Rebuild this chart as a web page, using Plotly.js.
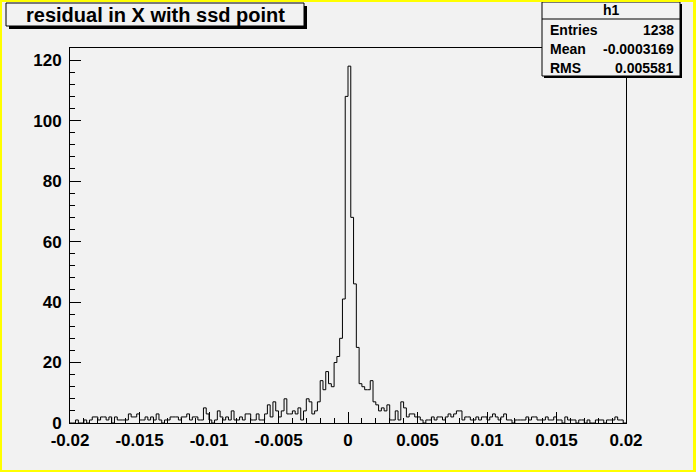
<!DOCTYPE html>
<html>
<head>
<meta charset="utf-8">
<script src="https://cdn.plot.ly/plotly-3.0.1.min.js"></script>
<style>
  html, body { margin: 0; padding: 0; background: #ffff00; width: 696px; height: 472px; overflow: hidden; }
  #plot { position: absolute; left: 2px; top: 2px; width: 691px; height: 468px; }
</style>
</head>
<body>
<div id="plot"></div>
<script>
// ---- data ----
const xMin = -0.02;
const xMax = 0.02;
const nBins = 200;
const counts = [
  0,0,1,0,0,1,0,1,2,2,
  1,2,2,1,2,0,2,1,1,1,
  1,3,2,2,3,1,1,2,1,2,
  1,3,1,0,1,1,2,2,2,1,
  2,2,3,1,2,2,1,1,5,3,
  1,0,1,4,2,1,2,1,4,1,
  1,2,1,3,3,1,1,3,1,1,
  3,6,2,7,4,2,4,8,3,3,
  4,3,5,1,4,8,7,3,4,7,
  14,11,17,13,12,20,22,28,41,108,
  118,68,46,25,13,12,11,11,14,7,
  6,4,5,4,6,1,1,4,1,7,
  5,2,3,3,2,2,1,0,1,1,
  2,1,2,2,1,2,3,2,3,4,
  4,1,2,2,1,1,2,1,2,2,
  1,2,3,2,1,2,3,1,1,0,
  1,1,1,1,2,1,2,2,1,1,
  1,2,1,1,2,1,1,0,2,1,
  1,1,0,1,1,0,1,0,0,1,
  1,1,0,1,1,1,2,1,1,0
];
const xTickVals = [-0.02, -0.015, -0.01, -0.005, 0, 0.005, 0.01, 0.015, 0.02];
const xTickText = ["-0.02", "-0.015", "-0.01", "-0.005", "0", "0.005", "0.01", "0.015", "0.02"];
const yTickVals = [0, 20, 40, 60, 80, 100, 120];
const yTickText = ["0", "20", "40", "60", "80", "100", "120"];
const titleText = "residual in X with ssd point";
const statsName = "h1";
const statsLabels = ["Entries", "Mean", "RMS"];
const statsValues = ["1238", "-0.0003169", "0.005581"];

// ---- step outline built from bin edges ----
const binW = (xMax - xMin) / nBins;
const sx = [xMin], sy = [0];
for (let i = 0; i < nBins; i++) { sx.push(xMin + i * binW); sy.push(counts[i]); }
sx.push(xMax); sy.push(counts[nBins - 1]);
sx.push(xMax); sy.push(0);

// ---- layout helpers (pixel -> paper) ----
const M = { l: 68, r: 67, t: 46, b: 47 };
const W = 691, H = 468;
const pw = W - M.l - M.r, ph = H - M.t - M.b;
const px = x => (x - 2 - M.l) / pw;          // page x -> paper
const py = y => (H - M.b - (y - 2)) / ph;    // page y -> paper

const font = { family: "Liberation Sans, Arial, Helvetica, sans-serif", weight: "bold", color: "#000" };
const shapes = [];
const annotations = [];
function pave(x0, y0, x1, y1, sh) {
  shapes.push({ type: "rect", xref: "paper", yref: "paper", x0: px(x0 + sh), x1: px(x1 + sh), y0: py(y1 + sh), y1: py(y0 + sh), fillcolor: "#000", line: { width: 0 }, layer: "above" });
  shapes.push({ type: "rect", xref: "paper", yref: "paper", x0: px(x0), x1: px(x1), y0: py(y1), y1: py(y0), fillcolor: "#f2f2f2", line: { color: "#000", width: 1 }, layer: "above" });
}
// title pave
pave(6, 3, 304, 26, 3);
annotations.push({ xref: "paper", yref: "paper", x: px(155), y: py(14.5), text: titleText, showarrow: false, xanchor: "center", yanchor: "middle", font: Object.assign({ size: 20 }, font) });
// stats pave
pave(542, 2, 680, 76, 2);
shapes.push({ type: "line", xref: "paper", yref: "paper", x0: px(542), x1: px(680), y0: py(19), y1: py(19), line: { color: "#000", width: 1 }, layer: "above" });
annotations.push({ xref: "paper", yref: "paper", x: px(611), y: py(10.5), text: statsName, showarrow: false, xanchor: "center", yanchor: "middle", font: Object.assign({ size: 14 }, font) });
for (let i = 0; i < statsLabels.length; i++) {
  const yy = 30 + i * 19;
  annotations.push({ xref: "paper", yref: "paper", x: px(548), y: py(yy), text: statsLabels[i], showarrow: false, xanchor: "left", yanchor: "middle", font: Object.assign({ size: 14 }, font) });
  annotations.push({ xref: "paper", yref: "paper", x: px(676), y: py(yy), text: statsValues[i], showarrow: false, xanchor: "right", yanchor: "middle", font: Object.assign({ size: 14 }, font) });
}

const trace = {
  type: "scatter", mode: "lines", x: sx, y: sy,
  line: { color: "#000", width: 1, shape: "hv" },
  hoverinfo: "skip", showlegend: false
};

const axisCommon = {
  showgrid: false, zeroline: false, showline: true, mirror: true,
  linecolor: "#000", linewidth: 1,
  ticks: "inside", tickcolor: "#000", tickwidth: 1, ticklen: 11,
  tickfont: Object.assign({ size: 17 }, font)
};

const layout = {
  width: W, height: H, margin: M,
  paper_bgcolor: "#f2f2f2", plot_bgcolor: "#f2f2f2",
  showlegend: false,
  xaxis: Object.assign({}, axisCommon, {
    range: [xMin, xMax], tickmode: "array", tickvals: xTickVals, ticktext: xTickText,
    ticklabelstandoff: 2,
    minor: { tickmode: "linear", tick0: xMin, dtick: 0.001, ticks: "inside", ticklen: 5, tickcolor: "#000", tickwidth: 1 }
  }),
  yaxis: Object.assign({}, axisCommon, {
    range: [0, 124], tickmode: "array", tickvals: yTickVals, ticktext: yTickText,
    ticklabelstandoff: 4,
    minor: { tickmode: "linear", tick0: 0, dtick: 4, ticks: "inside", ticklen: 5, tickcolor: "#000", tickwidth: 1 }
  }),
  shapes: shapes,
  annotations: annotations
};

Plotly.newPlot("plot", [trace], layout, { displayModeBar: false, staticPlot: true });
</script>
</body>
</html>
